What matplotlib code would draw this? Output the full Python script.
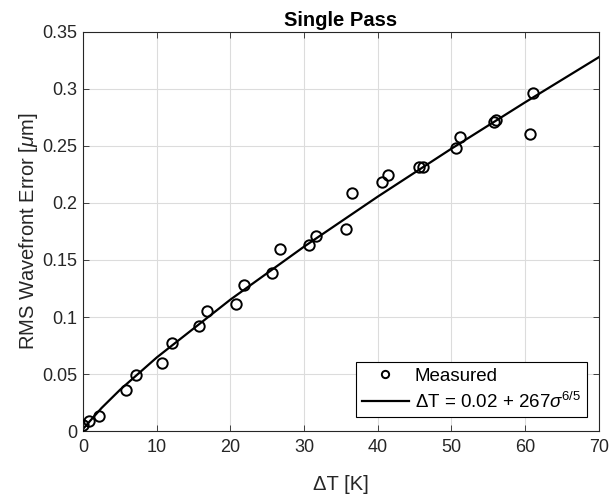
import numpy as np
import matplotlib.pyplot as plt

plt.rcParams['font.family'] = ['Liberation Sans', 'DejaVu Sans']
plt.rcParams['mathtext.fontset'] = 'custom'
plt.rcParams['mathtext.rm'] = 'Liberation Sans'
plt.rcParams['mathtext.it'] = 'Liberation Sans:italic'

# Measured points
dT_meas = [0.0, 0.8, 2.2, 5.8, 7.2, 10.7, 12.1, 15.7, 16.8, 20.8,
           21.8, 25.7, 26.7, 30.7, 31.6, 35.7, 36.5, 40.6, 41.4, 45.6,
           46.2, 50.6, 51.2, 55.8, 56.1, 60.7, 61.1]
rms_meas = [0.005, 0.009, 0.013, 0.036, 0.049, 0.060, 0.077, 0.092, 0.105, 0.111,
            0.128, 0.139, 0.160, 0.163, 0.171, 0.177, 0.209, 0.218, 0.224, 0.231,
            0.231, 0.248, 0.258, 0.271, 0.273, 0.260, 0.296]

# Fit curve
dT_fit = [0.0, 1.0, 2.5, 5.0, 10.0, 20.0, 30.0, 40.0, 50.0, 60.0, 70.0]
rms_fit = [0.002, 0.0094, 0.0203, 0.0362, 0.0646, 0.1153, 0.1617, 0.2055, 0.2475, 0.2881, 0.3276]

xticks = [0, 10, 20, 30, 40, 50, 60, 70]
yticks = [0, 0.05, 0.1, 0.15, 0.2, 0.25, 0.3, 0.35]
ytick_labels = ['0', '0.05', '0.1', '0.15', '0.2', '0.25', '0.3', '0.35']

fig = plt.figure(figsize=(6.16, 4.95), dpi=100)
ax = fig.add_axes([0.135, 0.129, 0.837, 0.807])

dark = '#262626'

ax.plot(dT_meas, rms_meas, 'o', mfc='none', mec='black', ms=7.5, mew=1.4,
        label='Measured', zorder=3)
ax.plot(dT_fit, rms_fit, '-', color='black', lw=1.6,
        label='\u0394T = 0.02 + 267$\\sigma^{6/5}$', zorder=2)

ax.set_xlim(0, 70)
ax.set_ylim(0, 0.35)
ax.set_xticks(xticks)
ax.set_yticks(yticks)
ax.set_yticklabels(ytick_labels)

ax.grid(True, color='#dcdcdc', linewidth=0.8)
ax.set_axisbelow(True)
ax.tick_params(direction='in', length=4, width=0.6, colors=dark, labelsize=13,
               top=True, right=True, pad=4)
ax.tick_params(axis='x', pad=6)
for s in ax.spines.values():
    s.set_color(dark)
    s.set_linewidth(0.8)

ax.set_xlabel('\u0394T [K]', fontsize=14.5, color=dark, labelpad=13)
ax.set_ylabel('RMS Wavefront Error [$\\mu$m]', fontsize=14.5, color=dark, labelpad=2)
ax.set_title('Single Pass', fontsize=14.5, fontweight='bold', pad=4)

leg = ax.legend(loc='lower right', bbox_to_anchor=(0.977, 0.035), fontsize=13.5,
                frameon=True, fancybox=False, edgecolor='black', framealpha=1,
                borderpad=0.3, handlelength=2.55, handletextpad=0.3, labelspacing=0.35,
                borderaxespad=0, markerscale=0.7)
leg.get_frame().set_linewidth(0.8)

plt.savefig('out.png', dpi=100)
